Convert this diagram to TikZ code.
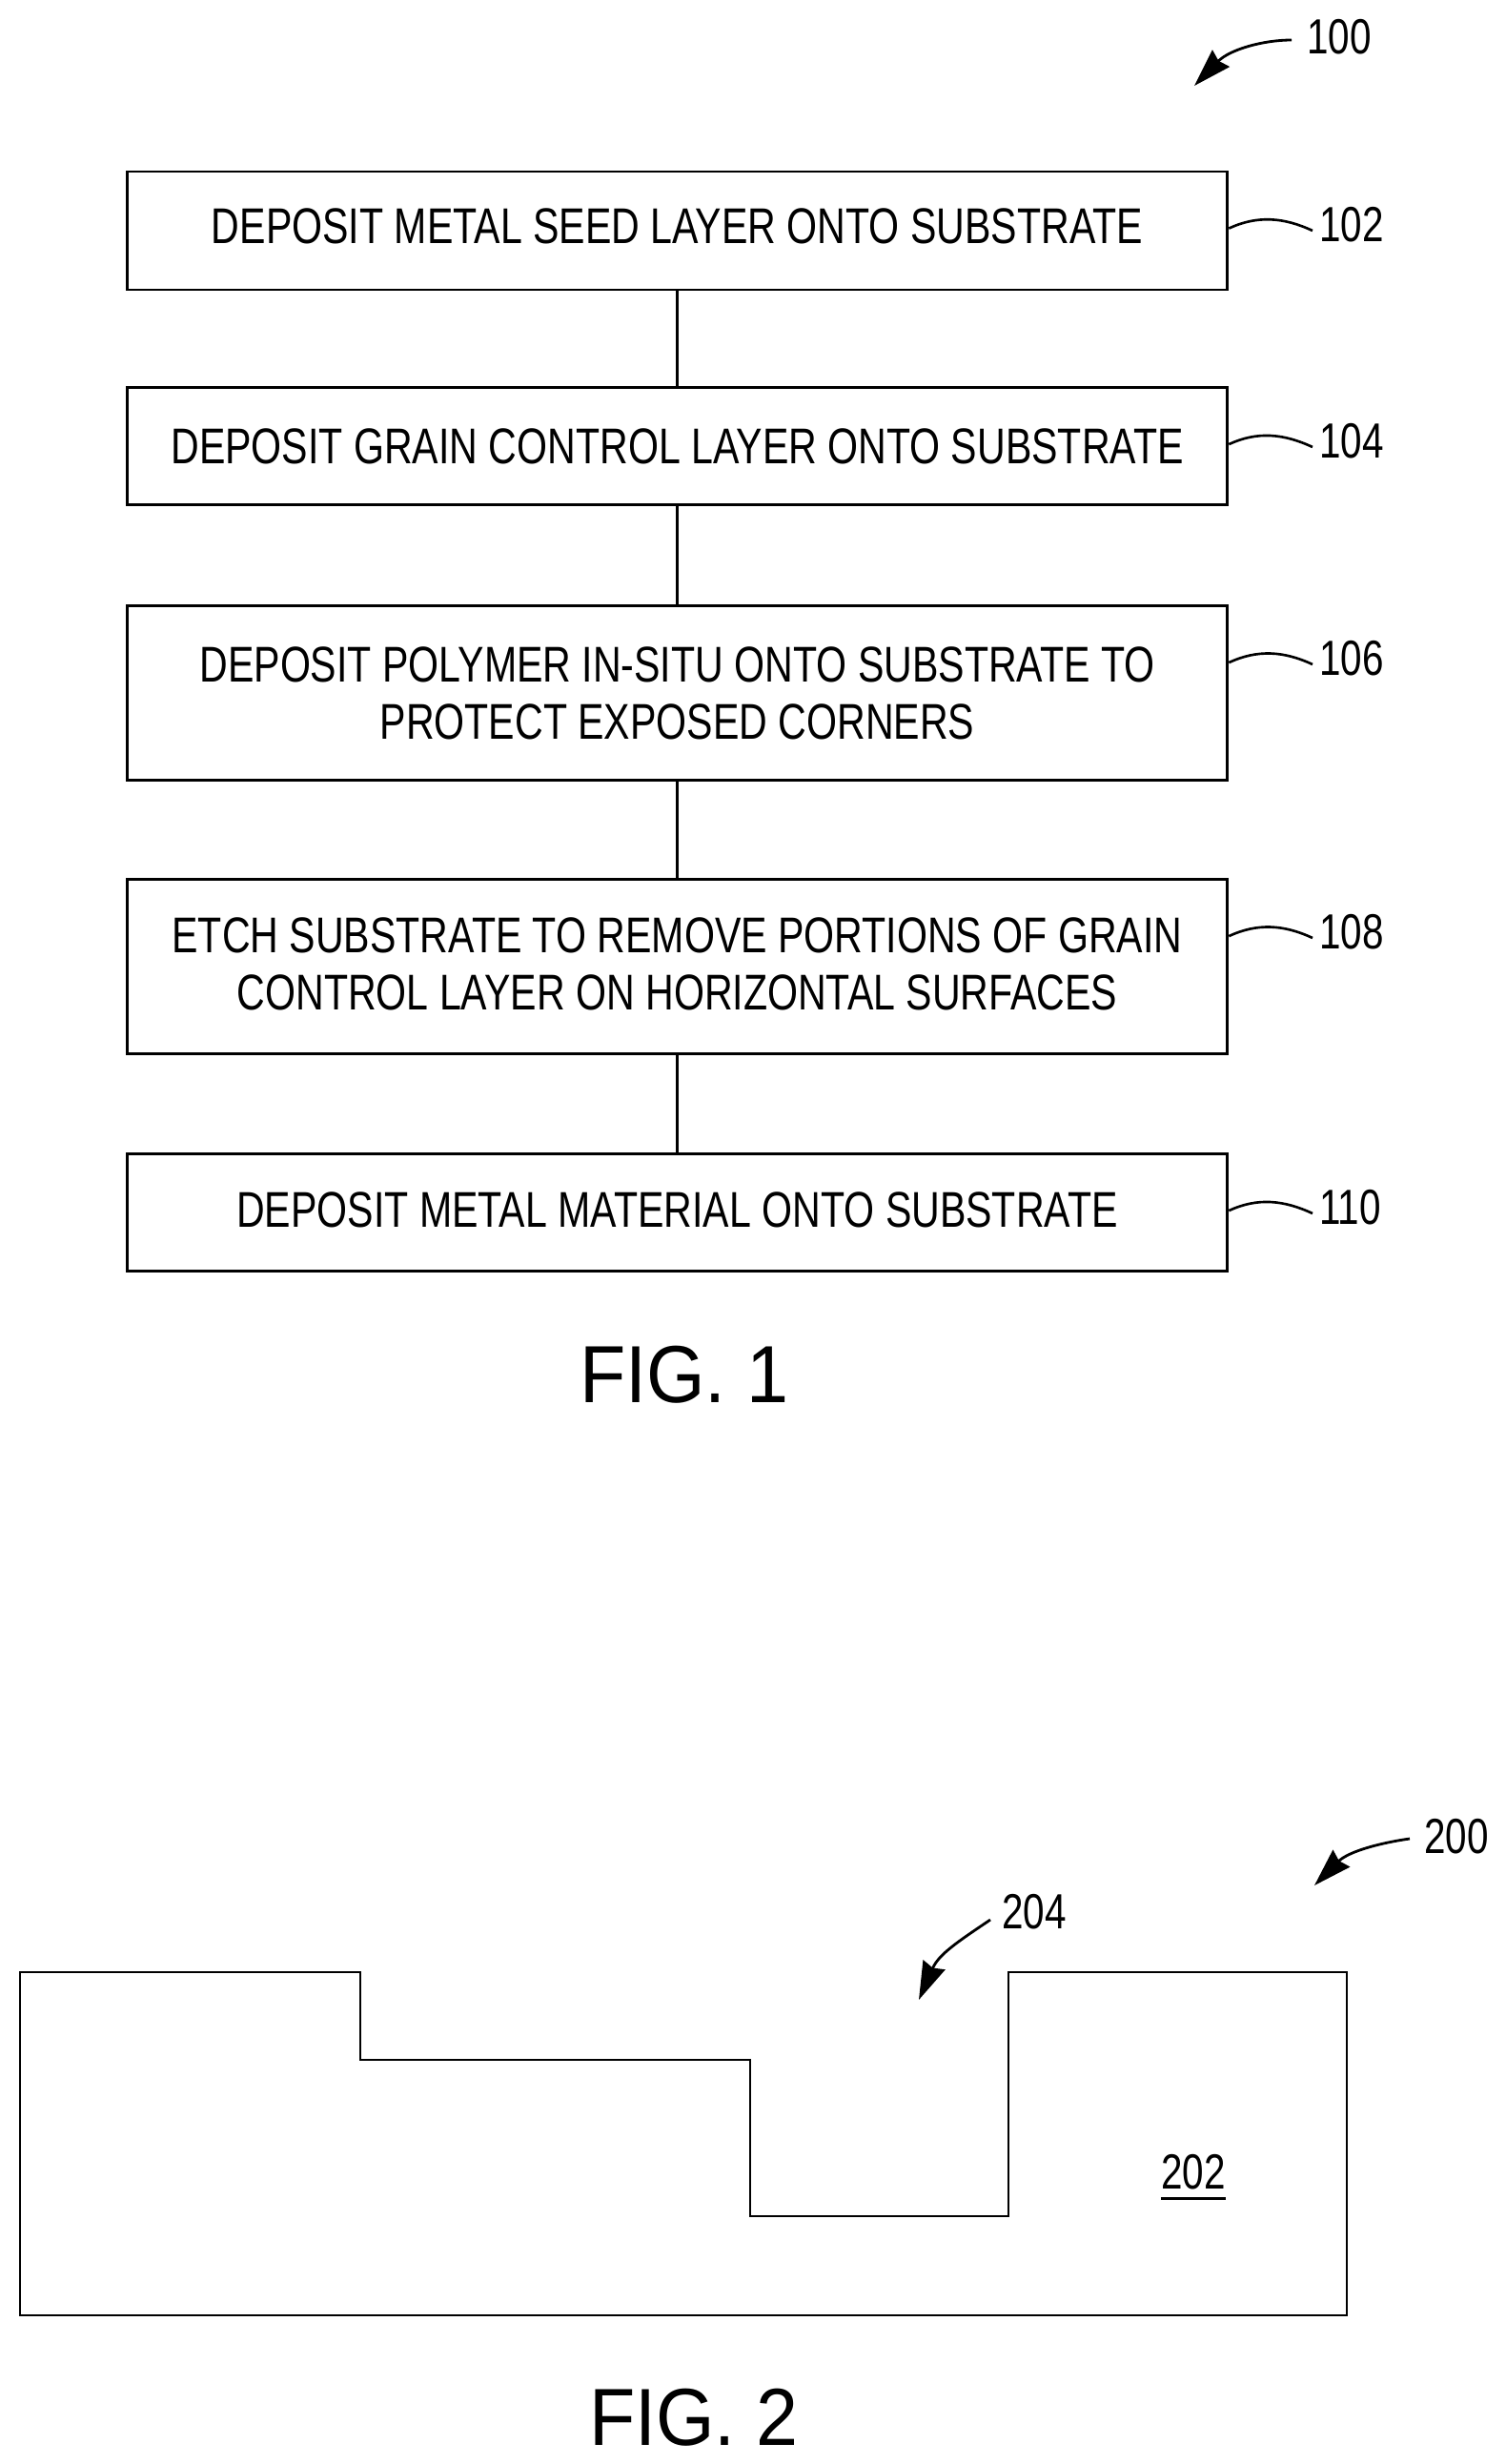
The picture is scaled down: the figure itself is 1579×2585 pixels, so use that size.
\documentclass[tikz,border=0pt]{standalone}
\usepackage{fontspec}
\setmainfont[FakeStretch=0.78]{Liberation Sans}
\newfontfamily\figfont[FakeStretch=0.93]{Liberation Sans}
\usetikzlibrary{arrows.meta}
\tikzset{
    stepbox/.style={draw, line width=1.6pt, minimum width=23.1cm, minimum height=#1, inner sep=0pt,
        align=center, font=\fontsize{30}{34.2}\selectfont},
    reflabel/.style={inner sep=0pt, font=\fontsize{29.5}{33}\selectfont},
    figlabel/.style={inner sep=0pt, font=\figfont\fontsize{48.4}{52}\selectfont},
    leader/.style={line width=1.5pt},
    pointer/.style={line width=1.6pt, -{Stealth[length=0.8cm, width=0.5cm, inset=0.07cm]}},
}
\begin{document}
\begin{tikzpicture}[x=0.02cm, y=-0.02cm]
    \useasboundingbox (0, 0) rectangle (1579, 2585);

    \node[stepbox=2.48cm, text depth=0.2cm] (box102) at (710.5, 242) {DEPOSIT METAL SEED LAYER ONTO SUBSTRATE};
    \node[stepbox=2.46cm, text depth=0cm] (box104) at (710.5, 468) {DEPOSIT GRAIN CONTROL LAYER ONTO SUBSTRATE};
    \node[stepbox=3.66cm] (box106) at (710.5, 727) {DEPOSIT POLYMER IN-SITU ONTO SUBSTRATE TO\\PROTECT EXPOSED CORNERS};
    \node[stepbox=3.66cm, text depth=0.13cm] (box108) at (710.5, 1014) {ETCH SUBSTRATE TO REMOVE PORTIONS OF GRAIN\\CONTROL LAYER ON HORIZONTAL SURFACES};
    \node[stepbox=2.46cm, text depth=0.13cm] (box110) at (710.5, 1272) {DEPOSIT METAL MATERIAL ONTO SUBSTRATE};

    \draw[leader] (box102) -- (box104);
    \draw[leader] (box104) -- (box106);
    \draw[leader] (box106) -- (box108);
    \draw[leader] (box108) -- (box110);

    \foreach \n/\y in {102/180, 104/407, 106/635, 108/922, 110/1211} {
        \node[reflabel, anchor=west] (lab\n) at (1384, \y+56) {\n};
        \coordinate (end\n) at (1377, \y+62);
        \draw[leader] (box\n.north east) ++(0, 61) .. controls +(30, -14) and +(-30, -14) .. (end\n);
    }

    \node[reflabel, anchor=west] (lab100) at (1371, 39) {100};
    \coordinate (from100) at (1355, 42);
    \coordinate (tip100) at (1253, 90);
    \draw[pointer] (from100) .. controls (1325, 42) and (1290, 52) .. (tip100);

    \node[figlabel] (fig1) at (718, 1442) {FIG. 1};

    \draw[line width=1.6pt] (21, 2069) -- (378, 2069) -- (378, 2161) -- (787, 2161) -- (787, 2325)
        -- (1058, 2325) -- (1058, 2069) -- (1413, 2069) -- (1413, 2429) -- (21, 2429) -- cycle;

    \node[reflabel, anchor=west] (lab200) at (1494, 1927) {200};
    \coordinate (from200) at (1479, 1929);
    \coordinate (tip200) at (1379, 1978);
    \draw[pointer] (from200) .. controls (1450, 1933) and (1415, 1942) .. (tip200);

    \node[reflabel, anchor=west] (lab204) at (1051, 2006) {204};
    \coordinate (from204) at (1039, 2014);
    \coordinate (tip204) at (964, 2098);
    \draw[pointer] (from204) .. controls (1005, 2037) and (985, 2050) .. (tip204);

    \node[reflabel, inner ysep=5pt] (lab202) at (1252, 2279) {202};
    \draw[line width=1.5pt] (lab202.south west) -- (lab202.south east);

    \node[figlabel] (fig2) at (728, 2536) {FIG. 2};
\end{tikzpicture}
\end{document}
